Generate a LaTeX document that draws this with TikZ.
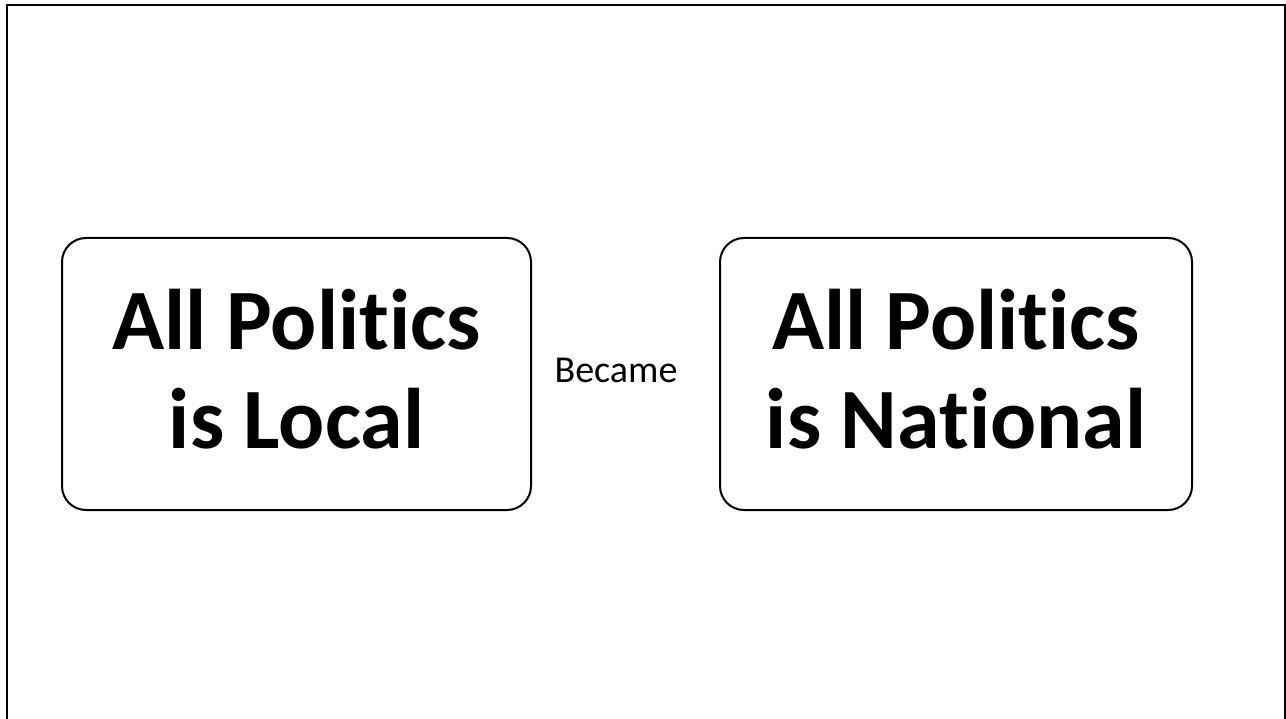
\documentclass[tikz,border=0pt]{standalone}
\usepackage{fontspec}
\setmainfont{Carlito}[Ligatures=NoCommon]
\usetikzlibrary{positioning}
\newcommand{\piede}{\rule[-10pt]{0pt}{10pt}}
\tikzset{
  cornice/.style = {draw, line width=2pt},
  slogan/.style  = {rectangle, draw, line width=2pt, rounded corners=24pt, align=center,
                    font=\fontsize{86}{99}\selectfont\bfseries, inner sep=0pt},
  verbo/.style   = {font=\fontsize{38}{44}\selectfont, anchor=base, inner sep=0pt}
}
\begin{document}
\begin{tikzpicture}[x=1pt,y=-1pt]

  \useasboundingbox (0,0) rectangle (1286,719);
  \draw[cornice] (7,5) rectangle (1284.5,730);

  % ---- due riquadri ----
  \node[slogan, minimum width=469pt, minimum height=272pt] (locale)    at (296.5,374) {All Politics\\is Local\piede};
  \node[slogan, minimum width=472pt, minimum height=272pt] (nazionale) at (956,374)   {All Politics\\is National\piede};

  % ---- parola in mezzo ----
  \node[verbo] (became) at (616,383) {Became};

\end{tikzpicture}
\end{document}
